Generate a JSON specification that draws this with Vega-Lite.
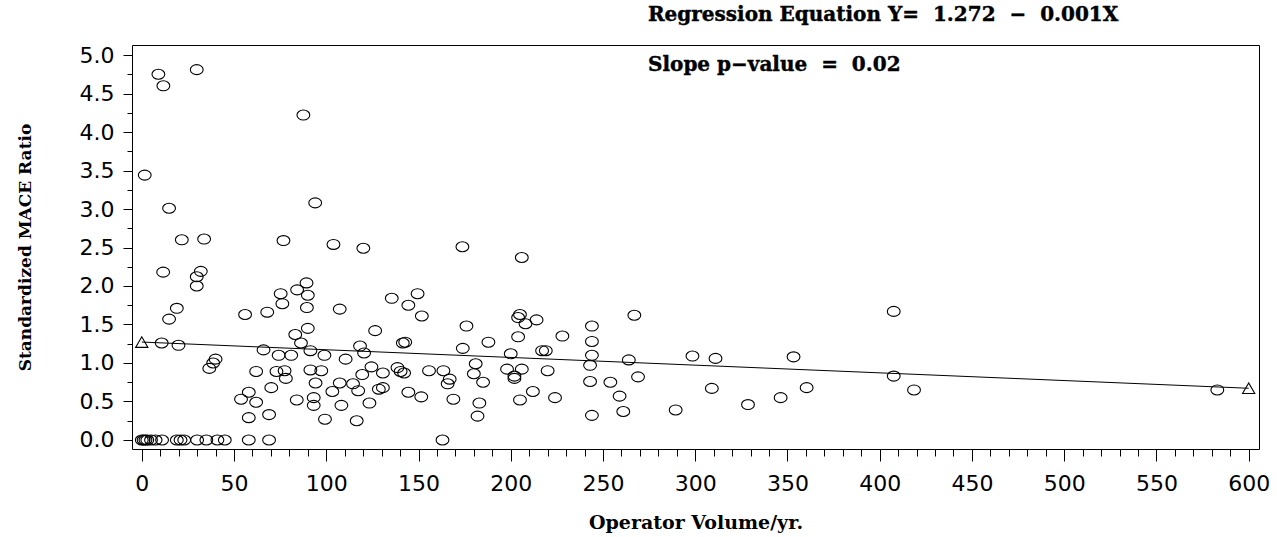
{
  "$schema": "https://vega.github.io/schema/vega-lite/v6.json",
  "autosize": {"type": "none"},
  "padding": {"left": 132, "top": 45, "right": 18, "bottom": 88},
  "width": 1127,
  "height": 404,
  "background": "white",
  "config": {"view": {"stroke": "black", "strokeWidth": 1}},
  "datasets": {
    "points": [
      {"x":0,"y":0},{"x":1,"y":0},{"x":2,"y":0},{"x":3,"y":0},{"x":5,"y":0},{"x":7.5,"y":0},{"x":11,"y":0},{"x":19,"y":0},{"x":21,"y":0},{"x":23,"y":0},{"x":30,"y":0},{"x":35,"y":0},{"x":41,"y":0},{"x":45,"y":0},{"x":58,"y":0},{"x":69,"y":0},{"x":163,"y":0},
      {"x":1.6,"y":3.44},{"x":9,"y":4.75},{"x":11.7,"y":4.6},{"x":29.8,"y":4.81},{"x":14.8,"y":3.01},{"x":21.7,"y":2.6},{"x":33.8,"y":2.61},{"x":11.6,"y":2.18},{"x":32,"y":2.19},{"x":29.8,"y":2.12},{"x":29.8,"y":2.0},{"x":19,"y":1.71},{"x":14.8,"y":1.57},{"x":10.8,"y":1.26},{"x":19.9,"y":1.23},{"x":36.6,"y":0.93},{"x":38.7,"y":1.0},{"x":40,"y":1.05},
      {"x":56,"y":1.63},{"x":68,"y":1.66},{"x":75.3,"y":1.9},{"x":76.2,"y":1.77},{"x":76.8,"y":2.59},{"x":84.2,"y":1.95},{"x":87.6,"y":4.22},{"x":89.3,"y":2.04},{"x":90,"y":1.88},{"x":89.5,"y":1.72},{"x":90,"y":1.45},{"x":83.2,"y":1.37},{"x":86.3,"y":1.26},{"x":91.4,"y":1.16},{"x":94,"y":3.08},{"x":66,"y":1.17},{"x":74.2,"y":1.1},{"x":81,"y":1.1},{"x":99,"y":1.1},{"x":103.9,"y":2.54},{"x":107.3,"y":1.7},{"x":110.5,"y":1.05},{"x":118.3,"y":1.22},{"x":120.5,"y":1.13},{"x":120.1,"y":2.49},{"x":126.5,"y":1.42},{"x":135.5,"y":1.84},{"x":144.5,"y":1.75},{"x":149.5,"y":1.9},{"x":151.8,"y":1.61},{"x":141.5,"y":1.26},{"x":142.8,"y":1.27},
      {"x":62,"y":0.89},{"x":73,"y":0.89},{"x":77.4,"y":0.9},{"x":78.1,"y":0.8},{"x":91.4,"y":0.91},{"x":97.3,"y":0.9},{"x":70.2,"y":0.68},{"x":58,"y":0.62},{"x":53.8,"y":0.53},{"x":62,"y":0.49},{"x":58,"y":0.29},{"x":69,"y":0.33},{"x":84,"y":0.52},{"x":94.2,"y":0.74},{"x":93.2,"y":0.55},{"x":93.2,"y":0.45},{"x":99.3,"y":0.27},{"x":103.3,"y":0.63},{"x":107.3,"y":0.74},{"x":108.2,"y":0.45},{"x":114.5,"y":0.73},{"x":116.5,"y":0.25},{"x":117.3,"y":0.64},{"x":119.5,"y":0.85},{"x":124.5,"y":0.95},{"x":123.4,"y":0.48},{"x":130.7,"y":0.87},{"x":128.5,"y":0.66},{"x":130.7,"y":0.68},{"x":138.6,"y":0.94},{"x":140.3,"y":0.89},{"x":142.2,"y":0.87},{"x":144.5,"y":0.62},{"x":151.5,"y":0.56},{"x":155.7,"y":0.9},
      {"x":163.5,"y":0.9},{"x":166.9,"y":0.79},{"x":165.8,"y":0.73},{"x":168.9,"y":0.53},{"x":173.8,"y":2.51},{"x":176,"y":1.48},{"x":174,"y":1.19},{"x":181,"y":0.99},{"x":180,"y":0.86},{"x":185,"y":0.75},{"x":183,"y":0.48},{"x":182,"y":0.31},{"x":187.9,"y":1.27},{"x":198,"y":0.92},{"x":200,"y":1.12},{"x":202,"y":0.83},{"x":202,"y":0.8},{"x":204,"y":1.34},{"x":204,"y":1.59},{"x":205,"y":1.63},{"x":206,"y":2.37},{"x":206,"y":0.92},{"x":205,"y":0.52},{"x":208,"y":1.51},{"x":212,"y":0.63},{"x":214,"y":1.56},{"x":217,"y":1.16},{"x":219,"y":1.16},{"x":220,"y":0.9},{"x":224,"y":0.55},{"x":228,"y":1.35},
      {"x":244,"y":1.48},{"x":244,"y":1.28},{"x":244,"y":1.1},{"x":243,"y":0.97},{"x":243,"y":0.76},{"x":244,"y":0.32},{"x":254,"y":0.75},{"x":259,"y":0.57},{"x":261,"y":0.37},{"x":264,"y":1.04},{"x":267,"y":1.62},{"x":269,"y":0.82},{"x":289.4,"y":0.39},{"x":298.5,"y":1.09},{"x":311,"y":1.06},{"x":309,"y":0.67},{"x":328.6,"y":0.46},{"x":346.3,"y":0.55},{"x":353.3,"y":1.08},{"x":360.4,"y":0.68},{"x":407.6,"y":1.67},{"x":407.6,"y":0.83},{"x":418.6,"y":0.65},{"x":583,"y":0.65}
    ],
    "fit": [{"x":0,"y":1.272},{"x":600,"y":0.672}],
    "notes": [
      {"x":274.4,"y":5.446,"t":"Regression Equation Y=\u00a0 1.272 \u00a0−\u00a0 0.001X"},
      {"x":274.4,"y":4.792,"t":"Slope p−value \u00a0=\u00a0 0.02"}
    ]
  },
  "encoding": {
    "x": {
      "field": "x", "type": "quantitative",
      "scale": {"domain": [-5.3, 605.6], "nice": false, "zero": false},
      "axis": {
        "title": "Operator Volume/yr.",
        "values": [0,10,20,30,40,50,60,70,80,90,100,110,120,130,140,150,160,170,180,190,200,210,220,230,240,250,260,270,280,290,300,310,320,330,340,350,360,370,380,390,400,410,420,430,440,450,460,470,480,490,500,510,520,530,540,550,560,570,580,590,600],
        "format": "d",
        "labelExpr": "datum.value % 50 === 0 ? datum.label : ''",
        "tickSize": {"condition": {"test": "datum.value % 50 === 0", "value": 12}, "value": 7},
        "domain": false, "grid": false,
        "tickColor": "black", "tickWidth": 1,
        "labelFont": "DejaVu Sans", "labelFontSize": 22, "labelColor": "black", "labelPadding": 12,
        "labelOverlap": false, "labelFlush": false,
        "titleFont": "DejaVu Serif", "titleFontWeight": "bold", "titleFontSize": 19, "titleColor": "black", "titlePadding": 19
      }
    },
    "y": {
      "field": "y", "type": "quantitative",
      "scale": {"domain": [-0.117, 5.13], "nice": false, "zero": false},
      "axis": {
        "title": "Standardized MACE Ratio",
        "values": [0,0.25,0.5,0.75,1,1.25,1.5,1.75,2,2.25,2.5,2.75,3,3.25,3.5,3.75,4,4.25,4.5,4.75,5],
        "format": ".1f",
        "labelExpr": "datum.value % 0.5 === 0 ? datum.label : ''",
        "tickSize": {"condition": {"test": "datum.value % 0.5 === 0", "value": 9}, "value": 5},
        "domain": false, "grid": false,
        "tickColor": "black", "tickWidth": 1,
        "labelFont": "DejaVu Sans", "labelFontSize": 22, "labelColor": "black", "labelPadding": 9,
        "labelOverlap": false,
        "titleFont": "DejaVu Serif", "titleFontWeight": "bold", "titleFontSize": 17, "titleColor": "black", "titlePadding": 45
      }
    }
  },
  "layer": [
    {
      "data": {"name": "points"},
      "mark": {"type": "point", "shape": "M-1,0A1,0.78,0,1,1,1,0A1,0.78,0,1,1,-1,0Z", "filled": false, "stroke": "black", "strokeWidth": 1.1, "size": 164, "opacity": 1}
    },
    {
      "data": {"name": "fit"},
      "mark": {"type": "line", "color": "black", "strokeWidth": 1}
    },
    {
      "data": {"name": "fit"},
      "mark": {"type": "point", "shape": "triangle-up", "filled": false, "stroke": "black", "strokeWidth": 1.1, "size": 150, "opacity": 1}
    },
    {
      "data": {"name": "notes"},
      "mark": {"type": "text", "align": "left", "baseline": "alphabetic", "font": "DejaVu Serif", "fontWeight": "bold", "fontSize": 20, "fill": "black", "stroke": "black", "strokeWidth": 0.4},
      "encoding": {"text": {"field": "t"}}
    }
  ]
}
